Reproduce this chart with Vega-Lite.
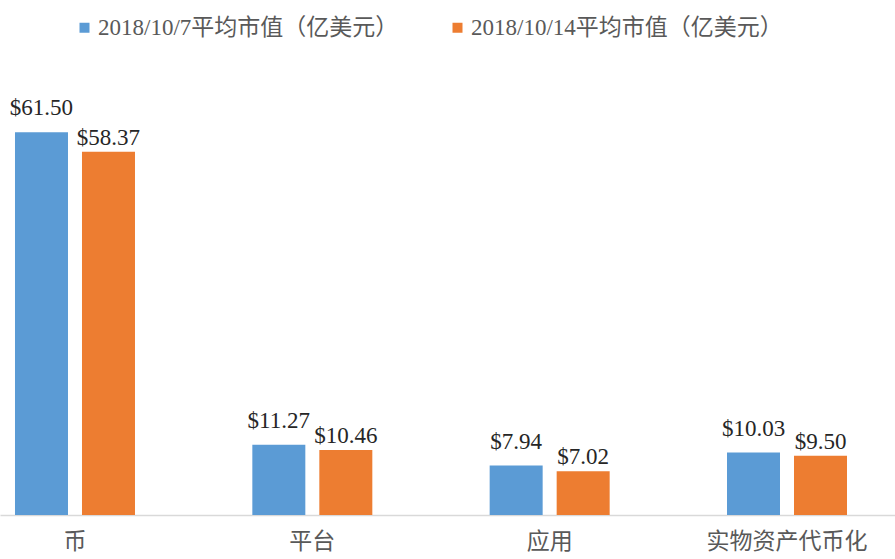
{
  "$schema": "https://vega.github.io/schema/vega-lite/v6.json",
  "width": 895,
  "height": 515,
  "autosize": {"type": "none"},
  "padding": {"left": 0, "top": 0, "right": 0, "bottom": 44},
  "background": "white",
  "config": {"view": {"stroke": null}},
  "data": {
    "values": [
      {"cat": "币", "series": "2018/10/7平均市值（亿美元）", "value": 61.50},
      {"cat": "币", "series": "2018/10/14平均市值（亿美元）", "value": 58.37},
      {"cat": "平台", "series": "2018/10/7平均市值（亿美元）", "value": 11.27},
      {"cat": "平台", "series": "2018/10/14平均市值（亿美元）", "value": 10.46},
      {"cat": "应用", "series": "2018/10/7平均市值（亿美元）", "value": 7.94},
      {"cat": "应用", "series": "2018/10/14平均市值（亿美元）", "value": 7.02},
      {"cat": "实物资产代币化", "series": "2018/10/7平均市值（亿美元）", "value": 10.03},
      {"cat": "实物资产代币化", "series": "2018/10/14平均市值（亿美元）", "value": 9.50}
    ]
  },
  "encoding": {
    "x": {
      "field": "cat", "type": "nominal", "sort": null,
      "scale": {"paddingInner": 0.4944, "paddingOuter": 0.1327, "align": 0.238},
      "axis": {
        "title": null, "labelAngle": 0, "ticks": false, "grid": false,
        "domainColor": "#d9d9d9", "domainWidth": 1.5,
        "labelFont": "Noto Sans CJK SC", "labelFontSize": 23, "labelColor": "#595959",
        "labelPadding": 15
      }
    },
    "xOffset": {
      "field": "series", "type": "nominal", "sort": null,
      "scale": {"paddingInner": 0.209, "paddingOuter": 0}
    },
    "y": {
      "field": "value", "type": "quantitative",
      "scale": {"domain": [0, 82.73], "nice": false},
      "axis": null
    }
  },
  "layer": [
    {
      "mark": {"type": "bar"},
      "encoding": {
        "color": {
          "field": "series", "type": "nominal", "sort": null,
          "scale": {"range": ["#5B9BD5", "#ED7D31"]},
          "legend": {
            "orient": "none", "legendX": 73, "legendY": 16, "direction": "horizontal",
            "title": null, "symbolType": "square", "symbolSize": 100, "symbolStrokeWidth": 0,
            "labelFont": "Liberation Serif, Noto Sans CJK SC", "labelFontSize": 23,
            "labelColor": "#595959", "labelLimit": 500, "columnPadding": 47, "labelOffset": 2
          }
        }
      }
    },
    {
      "transform": [{"filter": "datum.series == '2018/10/7平均市值（亿美元）'"}],
      "mark": {"type": "text", "baseline": "alphabetic", "dy": -17, "font": "Liberation Serif", "fontSize": 23, "color": "#262626"},
      "encoding": {"text": {"field": "value", "type": "quantitative", "format": "$.2f"}}
    },
    {
      "transform": [{"filter": "datum.series == '2018/10/14平均市值（亿美元）'"}],
      "mark": {"type": "text", "baseline": "alphabetic", "dy": -7, "font": "Liberation Serif", "fontSize": 23, "color": "#262626"},
      "encoding": {"text": {"field": "value", "type": "quantitative", "format": "$.2f"}}
    }
  ]
}
